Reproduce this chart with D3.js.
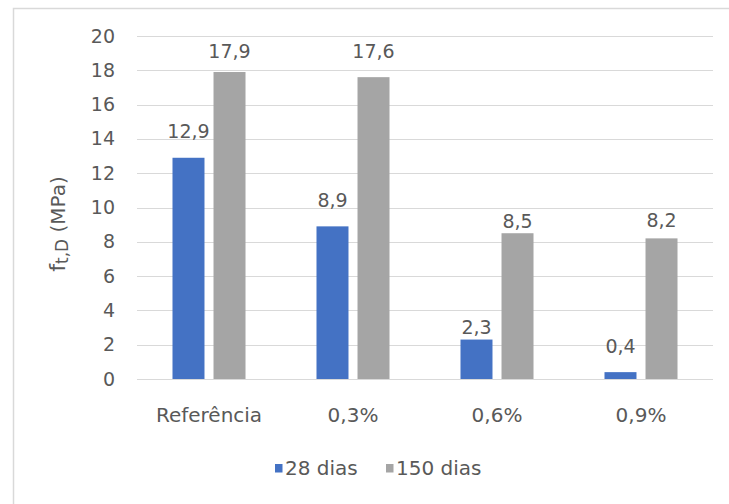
<!DOCTYPE html>
<html>
<head>
<meta charset="utf-8">
<script src="https://cdn.jsdelivr.net/npm/d3@7/dist/d3.min.js"></script>
<style>
  html, body { margin: 0; padding: 0; background: #fff; }
  svg { display: block; }
  text { font-family: "DejaVu Sans", sans-serif; fill: #595959; }
</style>
</head>
<body>
<svg id="chart" width="729" height="504"></svg>
<script>
// Flexural strength by fibre content and curing age
const categories = ["Referência", "0,3%", "0,6%", "0,9%"];
const seriesNames = ["28 dias", "150 dias"];
const values28 = [12.9, 8.9, 2.3, 0.4];
const values150 = [17.9, 17.6, 8.5, 8.2];
const yTicks = [0, 2, 4, 6, 8, 10, 12, 14, 16, 18, 20];

// Label lift above bar top (px), per category then series
const labelGap = [[19.5, 13.7], [19.7, 18.9], [5.6, 5.2], [19.4, 11.7]];

const colors = { "28 dias": "#4472C4", "150 dias": "#A5A5A5" };

const svg = d3.select("#chart");

// outer chart frame
svg.append("rect")
  .attr("x", 13.5).attr("y", 8.5)
  .attr("width", 740).attr("height", 520)
  .attr("fill", "none").attr("stroke", "#d9d9d9").attr("stroke-width", 1.5);

const plot = { left: 137, right: 713, top: 36, bottom: 379 };

const x0 = d3.scaleBand().domain(categories).range([plot.left, plot.right]).padding(0);
const bw = x0.bandwidth();
const x1 = d3.scaleBand().domain(seriesNames)
  .range([bw * 0.2465, bw * (1 - 0.2465)]).paddingInner(0.22).paddingOuter(0);
const y = d3.scaleLinear().domain([0, 20]).range([plot.bottom, plot.top]);

// gridlines
svg.append("g")
  .selectAll("line")
  .data(yTicks)
  .join("line")
  .attr("x1", plot.left).attr("x2", plot.right)
  .attr("y1", d => Math.round(y(d)) + 0.5).attr("y2", d => Math.round(y(d)) + 0.5)
  .attr("stroke", "#d9d9d9").attr("stroke-width", 1);

// y axis tick labels
const yAxis = d3.axisLeft(y).tickValues(yTicks).tickSize(0).tickPadding(0)
  .tickFormat(d3.format("d"));
const gy = svg.append("g").attr("transform", `translate(115,0)`).call(yAxis);
gy.select(".domain").remove();
gy.selectAll("text")
  .attr("fill", "#595959")
  .style("font-family", "DejaVu Sans")
  .style("font-size", "19px");

// y axis title
const yTitle = svg.append("text")
  .attr("transform", "translate(65,224) rotate(-90)")
  .attr("text-anchor", "middle")
  .style("font-size", "20px");
yTitle.append("tspan").style("font-size", "22px").text("f");
yTitle.append("tspan").attr("dy", 3).style("font-size", "17px").text("t,D");
yTitle.append("tspan").attr("dy", -3).text(" (MPa)");

// x axis category labels
const xAxis = d3.axisBottom(x0).tickSize(0).tickPadding(0);
const gx = svg.append("g").call(xAxis);
gx.select(".domain").remove();
gx.selectAll("text")
  .attr("y", 422).attr("dy", null)
  .attr("fill", "#595959")
  .style("font-family", "DejaVu Sans")
  .style("font-size", "20px");

// bars + value labels
const rows = categories.map((c, i) => ({
  cat: c, i,
  vals: [
    { s: seriesNames[0], v: values28[i], j: 0 },
    { s: seriesNames[1], v: values150[i], j: 1 }
  ]
}));

const groups = svg.append("g").selectAll("g")
  .data(rows)
  .join("g")
  .attr("transform", d => `translate(${x0(d.cat)},0)`);

groups.selectAll("rect")
  .data(d => d.vals)
  .join("rect")
  .attr("x", d => x1(d.s))
  .attr("y", d => y(d.v))
  .attr("width", x1.bandwidth())
  .attr("height", d => y(0) - y(d.v))
  .attr("fill", d => colors[d.s]);

groups.selectAll("text.val")
  .data(d => d.vals.map(v => ({ ...v, i: d.i })))
  .join("text")
  .attr("class", "val")
  .attr("x", d => x1(d.s) + x1.bandwidth() / 2)
  .attr("y", d => y(d.v) - labelGap[d.i][d.j])
  .attr("text-anchor", "middle")
  .style("font-size", "19px")
  .text(d => d3.format(".1f")(d.v).replace(".", ","));

// legend
const legendX = [275, 386];
const legend = svg.append("g").selectAll("g")
  .data(seriesNames)
  .join("g")
  .attr("transform", (d, i) => `translate(${legendX[i]},0)`);
legend.append("rect")
  .attr("x", 0).attr("y", 464).attr("width", 7.5).attr("height", 8.5)
  .attr("fill", d => colors[d]);
legend.append("text")
  .attr("x", 10).attr("y", 475)
  .style("font-size", "20px")
  .text(d => d);
</script>
</body>
</html>
